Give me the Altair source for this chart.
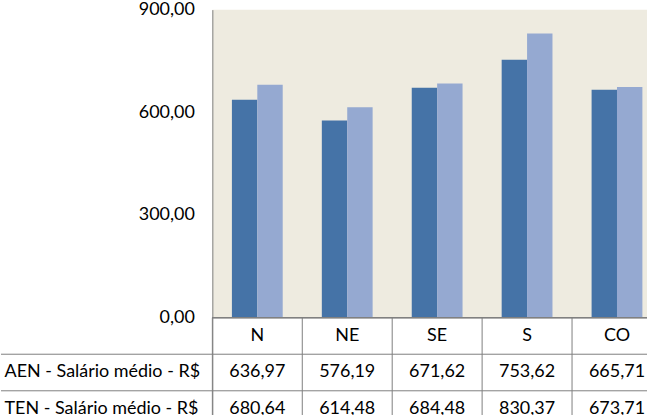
import altair as alt
import pandas as pd

categories = ["N", "NE", "SE", "S", "CO"]
series = ["AEN - Salário médio - R$", "TEN - Salário médio - R$"]
aen_values = [636.97, 576.19, 671.62, 753.62, 665.71]
ten_values = [680.64, 614.48, 684.48, 830.37, 673.71]
y_ticks = [0, 300, 600, 900]
colors = ["#4573A7", "#95A9D1"]

FONT = "Lato"
FS = 18
GREY = "#808080"
BG = "#EEEBE0"
HDR = "hdr"
rows = [HDR] + series


def fmt(v):
    return f"{v:.2f}".replace(".", ",")


bars = pd.DataFrame({
    "cat": categories * 2,
    "series": [series[0]] * len(categories) + [series[1]] * len(categories),
    "value": aen_values + ten_values,
})

tbl_records = []
for i, c in enumerate(categories):
    tbl_records.append({"cat": c, "row": HDR, "text": c})
    tbl_records.append({"cat": c, "row": series[0], "text": fmt(aen_values[i])})
    tbl_records.append({"cat": c, "row": series[1], "text": fmt(ten_values[i])})
tbl = pd.DataFrame(tbl_records)
cats_df = pd.DataFrame({"cat": categories})
hlines_df = pd.DataFrame({"row": [HDR, series[0]]})

xscale = alt.Scale(domain=categories, range=[0, 451], paddingInner=0, paddingOuter=0)

top = alt.Chart(bars).mark_bar(clip=True).encode(
    x=alt.X("cat:N", scale=xscale, axis=None, sort=categories),
    xOffset=alt.XOffset("series:N", sort=series,
                        scale=alt.Scale(domain=series, paddingInner=0, paddingOuter=0.77)),
    y=alt.Y("value:Q", scale=alt.Scale(domain=[0, 900], nice=False),
            axis=alt.Axis(values=y_ticks,
                          labelExpr="replace(format(datum.value, '.2f'), '.', ',')",
                          grid=False, ticks=False, domainColor=GREY, domainWidth=1,
                          labelFont=FONT, labelFontSize=FS, labelColor="black",
                          labelPadding=18, title=None)),
    color=alt.Color("series:N", scale=alt.Scale(domain=series, range=colors), legend=None),
).properties(width=436, height=309, view=alt.ViewBackground(fill=BG, stroke=None))

yscale = alt.Scale(type="band", domain=rows, range=[0, 110], paddingInner=0, paddingOuter=0)
yaxis = alt.Axis(labelExpr="datum.value == 'hdr' ? '' : datum.value",
                 labelAlign="left", labelPadding=209, labelLimit=0, ticks=False,
                 domain=True, domainColor=GREY, grid=False,
                 labelFont=FONT, labelFontSize=FS, labelColor="black", title=None)

text = alt.Chart(tbl).mark_text(font=FONT, fontSize=FS, color="black").encode(
    x=alt.X("cat:N", scale=xscale, axis=None, sort=categories),
    y=alt.Y("row:N", scale=yscale, sort=rows, axis=yaxis),
    text="text:N",
)

vlines = alt.Chart(cats_df).mark_rule(color=GREY, strokeWidth=1).encode(
    x=alt.X("cat:N", scale=xscale, axis=None, sort=categories, bandPosition=0),
)

hlines = alt.Chart(hlines_df).mark_rule(color=GREY, strokeWidth=1).encode(
    y=alt.Y("row:N", scale=yscale, sort=rows, axis=yaxis, bandPosition=1),
    x=alt.value(-212),
    x2=alt.value(436),
)

topline = alt.Chart(cats_df).mark_rule(color=GREY, strokeWidth=1).encode(
    y=alt.value(0),
    x=alt.value(0),
    x2=alt.value(436),
)

table = alt.layer(text, vlines, hlines, topline).properties(
    width=436, height=98, view=alt.ViewBackground(fill=None, stroke=None)
)

chart = alt.vconcat(top, table, spacing=0, bounds="flush").properties(
    padding={"left": 0, "top": 0, "right": 0, "bottom": 0}
).configure_view(stroke=None)

chart.save("out.html", embed_options={"renderer": "svg", "actions": False})
